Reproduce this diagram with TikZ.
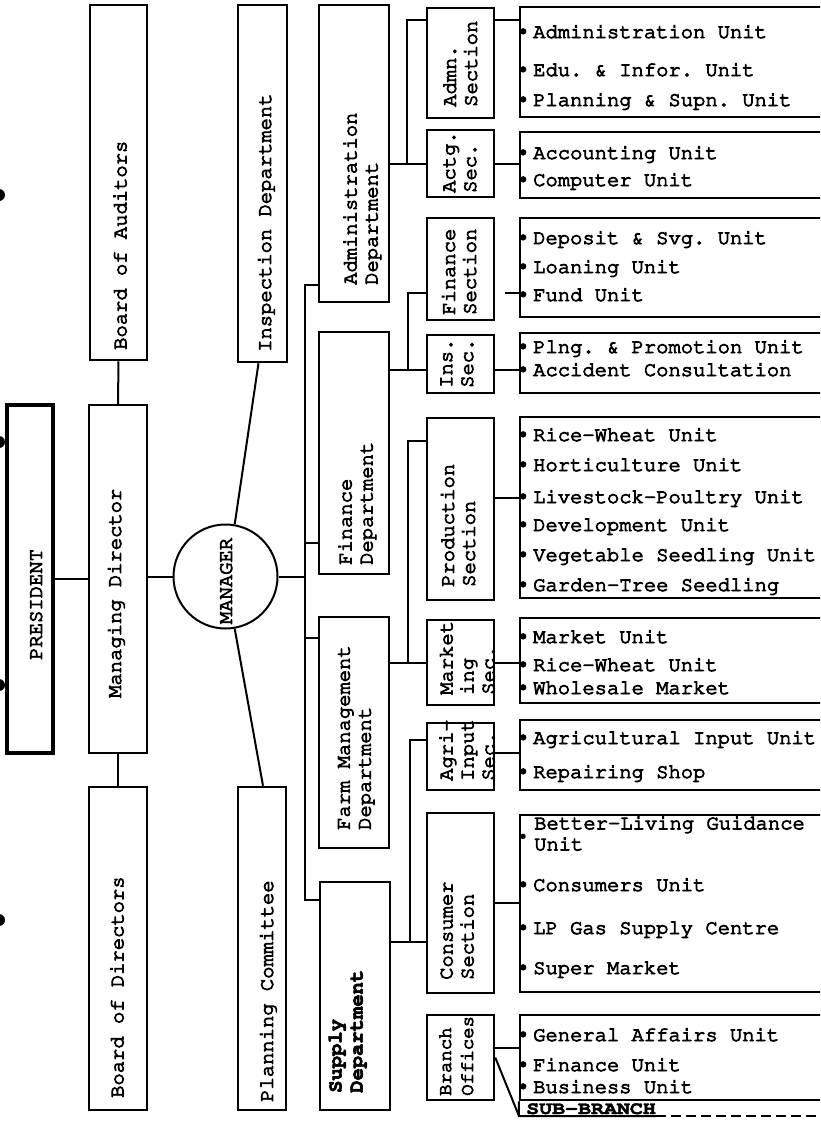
\documentclass[tikz,border=0pt]{standalone}
\usepackage{fontspec}
\setmainfont{Liberation Mono}
\usetikzlibrary{calc}
\newcommand\cour{\fontencoding{T1}\fontfamily{pcr}\selectfont\frenchspacing}
\newcommand\bigf{\cour\fontsize{20.5}{21}\selectfont}
\newcommand\bulglyph{{\normalfont\fontsize{20}{20}\selectfont •}}
\newcommand\bul{\makebox[12pt][l]{\hspace{-4pt}\bulglyph}}
\newcommand\inkon[1]{\special{pdf:literal direct #1 w 2 Tr}}
\newcommand\inkoff{\special{pdf:literal direct 0 Tr}}
\begin{document}
\begin{tikzpicture}[x=1pt,y=-1pt,
  box/.style={draw,line width=2.5pt,inner sep=0pt},
  conn/.style={line width=2pt},
  ink/.style={execute at begin node={\inkon{#1}},execute at end node={\inkoff}},
  ink/.default=0.9,
  vtxt/.style={rotate=90,anchor=west,inner sep=0pt,align=left,font=\bigf,ink},
  item/.style={anchor=base west,inner sep=0pt,font=\bigf,execute at begin node={\inkon{0.9}\bul},execute at end node={\inkoff}},
  unitbox/.style={box,minimum width=320pt},
  secbox/.style={box,minimum width=67pt},
  deptbox/.style={box,minimum width=70pt},
]
\useasboundingbox (0,0) rectangle (820,1122);
\clip (0,0) rectangle (820,1122);
\fill[white] (0,0) rectangle (820,1122);

% binder holes
\foreach \yy in {195,442,685,920} \fill (-1,\yy) circle[radius=6pt];

% left column
\node[box,minimum width=57pt,minimum height=355pt] (boa) at (118.5,182.5) {};
\node[vtxt] (boa-t) at (120,350) {Board of Auditors};
\node[box,minimum width=49pt,minimum height=357pt] (insp) at (262.5,183.5) {};
\node[vtxt] (insp-t) at (266,352) {Inspection Department};
\node[box,line width=4pt,minimum width=46pt,minimum height=348pt] (pres) at (30,579) {};
\node[vtxt] (pres-t) at (36,660) {PRESIDENT};
\node[box,minimum width=58pt,minimum height=348pt] (md) at (118,579) {};
\node[vtxt] (md-t) at (116,698) {Managing Director};
\node[draw,circle,line width=2pt,minimum size=104pt,inner sep=0pt] (mgr) at (225.5,576.5) {};
\node[rotate=90,font=\bigf,inner sep=0pt,ink] (mgr-t) at (226,581) {MANAGER};
\node[box,minimum width=58pt,minimum height=323pt] (bod) at (118,948.5) {};
\node[vtxt] (bod-t) at (117,1098) {Board of Directors};
\node[box,minimum width=48pt,minimum height=323pt] (plan) at (262,948.5) {};
\node[vtxt] (plan-t) at (268,1102) {Planning Committee};

% departments
\node[deptbox,minimum height=297pt] (adm) at (354,153.5) {};
\node[vtxt] (adm-t) at (362,285) {Administration\\Department};
\node[deptbox,minimum height=242pt] (fin) at (354,453) {};
\node[vtxt] (fin-t) at (357,565) {Finance\\Department};
\node[deptbox,minimum height=231pt] (farm) at (354,732.5) {};
\node[vtxt] (farm-t) at (356,830) {Farm Management\\Department};
\node[deptbox,minimum height=228pt] (sup) at (355,996) {};
\node[vtxt,font=\bigf\bfseries,ink=0.6] (sup-t) at (347,1093) {Supply\\Department};

% sections
\node[secbox,minimum height=110pt] (admsec) at (460.5,63) {};
\node[vtxt] (admsec-t) at (460,107) {Admn.\\Section};
\node[secbox,minimum height=67pt] (actg) at (460.5,163.5) {};
\node[vtxt] (actg-t) at (460,193) {Actg.\\Sec.};
\node[secbox,minimum height=102pt] (finsec) at (460.5,269) {};
\node[vtxt] (finsec-t) at (459,315) {Finance\\Section};
\node[secbox,minimum height=58pt] (ins) at (460.5,364) {};
\node[vtxt] (ins-t) at (457,388) {Ins.\\Sec.};
\node[secbox,minimum height=182pt] (prod) at (460.5,509) {};
\node[vtxt] (prod-t) at (458,587) {Production\\Section};
\node[secbox,minimum height=85pt] (mkt) at (460.5,662.5) {};
\node[vtxt] (mkt-t) at (467,695) {Market\\ing\\Sec.};
\node[secbox,minimum height=67pt] (agri) at (460.5,756.5) {};
\node[vtxt] (agri-t) at (467,781) {Agri-\\Input\\Sec.};
\node[secbox,minimum height=180pt] (cons) at (460.5,903) {};
\node[vtxt] (cons-t) at (457,980) {Consumer\\Section};
\node[secbox,minimum height=85pt] (branch) at (460.5,1057.5) {};
\node[vtxt,font=\cour\fontsize{19}{22}\selectfont] (branch-t) at (456,1096) {Branch\\Offices};

% unit boxes
\node[unitbox,minimum height=110pt] (u1) at (680,62) {};
\node[unitbox,minimum height=66pt] (u2) at (680,165) {};
\node[unitbox,minimum height=99pt] (u3) at (680,267.5) {};
\node[unitbox,minimum height=60pt] (u4) at (680,363) {};
\node[unitbox,minimum height=181pt] (u5) at (680,507.5) {};
\node[unitbox,minimum height=85pt] (u6) at (680,660.5) {};
\node[unitbox,minimum height=70pt] (u7) at (680,755) {};
\node[unitbox,minimum height=177pt] (u8) at (680,903.5) {};
\node[unitbox,minimum height=85pt] (u9) at (680,1057.5) {};

% unit items
\node[item] (u1a) at (521,38) {Administration Unit};
\node[item] (u1b) at (521,76) {Edu. \& Infor. Unit};
\node[item] (u1c) at (521,106) {Planning \& Supn. Unit};
\node[item] (u2a) at (521,159) {Accounting Unit};
\node[item] (u2b) at (521,186) {Computer Unit};
\node[item] (u3a) at (521,244) {Deposit \& Svg. Unit};
\node[item] (u3b) at (521,273) {Loaning Unit};
\node[item] (u3c) at (521,301) {Fund Unit};
\node[item] (u4a) at (521,353) {Plng. \& Promotion Unit};
\node[item] (u4b) at (521,376) {Accident Consultation};
\node[item] (u5a) at (521,441) {Rice-Wheat Unit};
\node[item] (u5b) at (521,471) {Horticulture Unit};
\node[item] (u5c) at (521,503) {Livestock-Poultry Unit};
\node[item] (u5d) at (521,531) {Development Unit};
\node[item] (u5e) at (521,561) {Vegetable Seedling Unit};
\node[item] (u5f) at (521,591) {Garden-Tree Seedling};
\node[item] (u6a) at (521,643) {Market Unit};
\node[item] (u6b) at (521,671) {Rice-Wheat Unit};
\node[item] (u6c) at (521,694) {Wholesale Market};
\node[item] (u7a) at (521,744) {Agricultural Input Unit};
\node[item] (u7b) at (521,778) {Repairing Shop};
\node[anchor=base west,inner sep=0pt] (u8bul) at (521,843) {\bul};
\node[anchor=north west,inner sep=0pt,font=\bigf,align=left,ink] (u8a) at (534,816) {Better-Living Guidance\\Unit};
\node[item] (u8b) at (521,891) {Consumers Unit};
\node[item] (u8c) at (521,934) {LP Gas Supply Centre};
\node[item] (u8d) at (521,974) {Super Market};
\node[item] (u9a) at (521,1041) {General Affairs Unit};
\node[item] (u9b) at (521,1071) {Finance Unit};
\node[item] (u9c) at (521,1093) {Business Unit};
\node[anchor=base west,inner sep=0pt,xscale=1.2,font=\cour\fontsize{18}{18}\selectfont\bfseries,ink=0.4] (sb) at (526,1114) {SUB-BRANCH};

% top-level connectors
\draw[conn] (pres.east) -- (md.west);
\draw[conn] (boa.south) -- (md.north);
\draw[conn] (md.south) -- (bod.north);
\draw[conn] (mgr.west -| md.east) -- (mgr.west);
\draw[conn] (mgr.80) -- ([xshift=-4pt]insp.south);
\draw[conn] (mgr.-80) -- ([xshift=1pt]plan.north);

% main bus
\coordinate (jA) at (305,285);
\coordinate (jF) at (305,543);
\coordinate (jFm) at (305,638);
\coordinate (jS) at (305,900);
\draw[conn] (jA -| adm.west) -- (jA) -- (jS) -- (jS -| sup.west);
\draw[conn] (jF) -- (jF -| fin.west);
\draw[conn] (jFm) -- (jFm -| farm.west);
\draw[conn] (mgr.east) -- (mgr.east -| jA);

% administration
\coordinate (a1) at (407,20);
\coordinate (a2) at (407,164);
\draw[conn] (a1 -| admsec.west) -- (a1) -- (a2) -- (a2 -| adm.east);
\draw[conn] (a2) -- (a2 -| actg.west);
\draw[conn] (a1 -| admsec.east) -- (a1 -| u1.west);
\draw[conn] (a2 -| actg.east) -- (a2 -| u2.west);

% finance
\coordinate (f1) at (408,293);
\coordinate (f2) at (408,370);
\draw[conn] (f1 -| finsec.west) -- (f1) -- (f2) -- (f2 -| fin.east);
\draw[conn] (f2) -- (f2 -| ins.west);
\draw[conn,shorten <=10pt] (f1 -| finsec.east) -- (f1 -| u3.west);
\draw[conn] (f2 -| ins.east) -- (f2 -| u4.west);

% farm management
\coordinate (p1) at (408,441);
\coordinate (p2) at (408,663);
\coordinate (p3) at (510,498);
\draw[conn] (p1 -| prod.west) -- (p1) -- (p2) -- (p2 -| farm.east);
\draw[conn] (p2) -- (p2 -| mkt.west);
\draw[conn] (p3 -| prod.east) -- (p3 -| u5.west);
\draw[conn] (p2 -| mkt.east) -- (p2 -| u6.west);

% supply
\coordinate (s1) at (410,740);
\coordinate (s2) at (410,942);
\coordinate (s3) at (510,753);
\coordinate (b1) at (510,1048);
\draw[conn] (s1 -| agri.west) -- (s1) -- (s2) -- (s2 -| sup.east);
\draw[conn] (s2) -- (s2 -| cons.west);
\draw[conn] (s3 -| agri.east) -- (s3 -| u7.west);
\draw[conn] (cons.east) -- (cons.east -| u8.west);
\draw[conn] (b1 -| branch.east) -- (b1 -| u9.west);

% sub-branch
\coordinate (sbL) at (519,1116);
\draw[conn] (branch.east) -- (sbL);
\draw[conn] (u9.south west) -- (sbL) -- (sbL -| sb.east);
\draw[conn,dash pattern=on 10pt off 5pt] (sbL -| sb.east) -- ++(200,0);
\end{tikzpicture}
\end{document}
